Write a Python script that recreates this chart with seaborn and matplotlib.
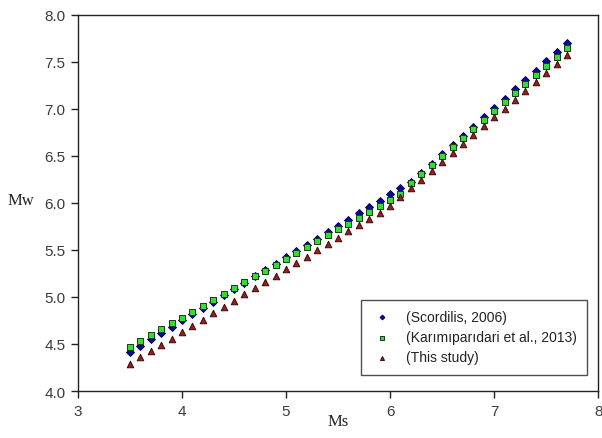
import matplotlib
matplotlib.use("Agg")
import matplotlib.pyplot as plt
import seaborn as sns
import pandas as pd

ms = [3.5, 3.6, 3.7, 3.8, 3.9, 4.0, 4.1, 4.2, 4.3, 4.4, 4.5, 4.6, 4.7, 4.8, 4.9,
      5.0, 5.1, 5.2, 5.3, 5.4, 5.5, 5.6, 5.7, 5.8, 5.9, 6.0, 6.1, 6.2, 6.3, 6.4,
      6.5, 6.6, 6.7, 6.8, 6.9, 7.0, 7.1, 7.2, 7.3, 7.4, 7.5, 7.6, 7.7]

scordilis = [4.415, 4.482, 4.549, 4.616, 4.683, 4.750, 4.817, 4.884, 4.951, 5.018,
             5.085, 5.152, 5.219, 5.286, 5.353, 5.420, 5.487, 5.554, 5.621, 5.688,
             5.755, 5.822, 5.889, 5.956, 6.023, 6.090, 6.157, 6.218, 6.317, 6.416,
             6.515, 6.614, 6.713, 6.812, 6.911, 7.010, 7.109, 7.208, 7.307, 7.406,
             7.505, 7.604, 7.703]

karimiparidari = [4.468, 4.530, 4.593, 4.655, 4.718, 4.780, 4.843, 4.905, 4.968, 5.030,
                  5.093, 5.155, 5.218, 5.280, 5.343, 5.405, 5.468, 5.530, 5.593, 5.655,
                  5.718, 5.780, 5.843, 5.905, 5.968, 6.030, 6.093, 6.212, 6.308, 6.404,
                  6.500, 6.596, 6.692, 6.788, 6.884, 6.980, 7.076, 7.172, 7.268, 7.364,
                  7.460, 7.556, 7.652]

this_study = [4.290, 4.357, 4.424, 4.491, 4.558, 4.625, 4.692, 4.759, 4.826, 4.893,
              4.960, 5.027, 5.094, 5.161, 5.228, 5.295, 5.362, 5.429, 5.496, 5.563,
              5.630, 5.697, 5.764, 5.831, 5.898, 5.965, 6.059, 6.154, 6.248, 6.343,
              6.437, 6.531, 6.626, 6.720, 6.815, 6.909, 7.003, 7.098, 7.192, 7.287,
              7.381, 7.475, 7.570]

labels = ["(Scordilis, 2006)", "(Karımıparıdari et al., 2013)", "(This study)"]
x_ticks = [3, 4, 5, 6, 7, 8]
y_ticks = [4.0, 4.5, 5.0, 5.5, 6.0, 6.5, 7.0, 7.5, 8.0]

df = pd.concat([
    pd.DataFrame({"Ms": ms, "Mw": scordilis, "Source": labels[0]}),
    pd.DataFrame({"Ms": ms, "Mw": karimiparidari, "Source": labels[1]}),
    pd.DataFrame({"Ms": ms, "Mw": this_study, "Source": labels[2]}),
], ignore_index=True)

sns.set_style("ticks")
plt.rcParams["font.family"] = ["Liberation Sans", "DejaVu Sans"]

fig = plt.figure(figsize=(6.02, 4.39), dpi=100)
ax = fig.add_axes([0.1296, 0.107, 0.864, 0.857])

palette = {labels[0]: "#0a0a9a", labels[1]: "#33dd33", labels[2]: "#9a1e1e"}
markers = {labels[0]: "D", labels[1]: "s", labels[2]: "^"}
edge = {labels[0]: "#00006a", labels[1]: "#1a3a1a", labels[2]: "#3a0a0a"}

for lab in labels:
    sub = df[df["Source"] == lab]
    sns.scatterplot(data=sub, x="Ms", y="Mw", ax=ax, color=palette[lab],
                    marker=markers[lab], s=22 if lab != labels[0] else 16,
                    edgecolor=edge[lab], linewidth=0.7, label=lab, zorder=3)

ax.set_xlim(3, 8)
ax.set_ylim(4.0, 8.0)
ax.set_xticks(x_ticks)
ax.set_xticklabels([str(v) for v in x_ticks])
ax.set_yticks(y_ticks)
ax.set_yticklabels([f"{v:.1f}" for v in y_ticks])
ax.tick_params(direction="out", length=5, width=1, colors="#222222",
               labelcolor="#3a3a3a", labelsize=11, pad=4)
for sp in ax.spines.values():
    sp.set_visible(True)
    sp.set_linewidth(1.0)
    sp.set_color("#222222")

ax.set_xlabel("Ms", fontfamily="Liberation Serif", fontsize=12, color="#222222")
ax.xaxis.set_label_coords(0.5, -0.08)
ax.xaxis.label.set_verticalalignment("center")
ax.set_ylabel("Mw", fontfamily="Liberation Serif", fontsize=12, color="#222222",
              rotation=0)
ax.yaxis.set_label_coords(-0.11, 0.508)
ax.yaxis.label.set_verticalalignment("center")

leg = ax.legend(loc="lower right", bbox_to_anchor=(0.979, 0.043), frameon=True,
                fancybox=False, edgecolor="#222222", fontsize=10, borderaxespad=0,
                handletextpad=0.9, handlelength=1.6, borderpad=0.75, labelspacing=0.45,
                markerscale=0.6)
leg.get_frame().set_linewidth(1.0)
for t in leg.get_texts():
    t.set_color("#222222")

fig.savefig("out.png", dpi=100)
